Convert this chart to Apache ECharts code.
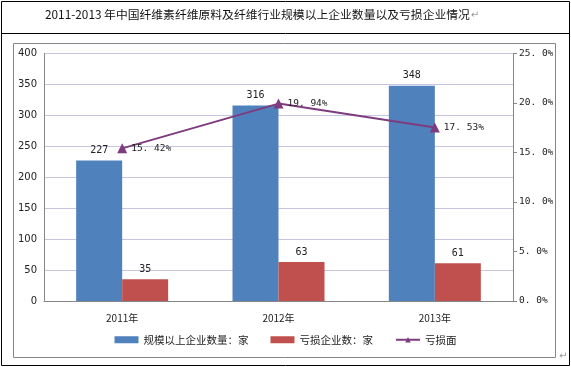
<!DOCTYPE html>
<html><head><meta charset="utf-8">
<script src="https://cdn.jsdelivr.net/npm/echarts@6/dist/echarts.min.js"></script>
<style>html,body{margin:0;padding:0;background:#fff}#c{width:571px;height:367px}</style>
</head><body><div id="c"></div>
<script>
const categories = ['2011年', '2012年', '2013年'];
const enterprises = [227, 316, 348];
const lossEnterprises = [35, 63, 61];
const lossRate = [15.42, 19.94, 17.53];
const seriesNames = ['规模以上企业数量：家', '亏损企业数：家', '亏损面'];
const titleText = '2011-2013 年中国纤维素纤维原料及纤维行业规模以上企业数量以及亏损企业情况';

const chart = echarts.init(document.getElementById('c'));
const pctFmt = (v, d) => { const s = v.toFixed(d); return s.replace('.', '. ') + '%'; };
chart.setOption({
  animation: false,
  textStyle: { fontFamily: 'DejaVu Sans, Noto Sans CJK SC' },
  graphic: [
    { type: 'rect', shape: { x: 1.5, y: 1.5, width: 568, height: 364 }, style: { fill: 'none', stroke: '#000', lineWidth: 1 } },
    { type: 'line', shape: { x1: 1.5, y1: 33.5, x2: 569.5, y2: 33.5 }, style: { stroke: '#000', lineWidth: 1 } },
    { type: 'rect', shape: { x: 13.5, y: 43.5, width: 542, height: 314 }, style: { fill: 'none', stroke: '#868686', lineWidth: 1 } },
    { type: 'text', left: 45, top: 9, style: { text: titleText + '{r|↵}', font: '11.8px "Noto Sans CJK SC"', fill: '#111',
        rich: { r: { fontSize: 10, fontFamily: 'DejaVu Sans', fill: '#999', padding: [2, 0, 0, 1] } } } },
    { type: 'text', left: 559, top: 351, style: { text: '↵', font: '10px "DejaVu Sans"', fill: '#999' } }
  ],
  grid: { left: 44, right: 58, top: 53.5, bottom: 66 },
  legend: {
    bottom: 17, left: 'center', itemWidth: 24, itemHeight: 7, itemGap: 22,
    textStyle: { fontSize: 10.5, color: '#222', fontFamily: 'Noto Sans CJK SC' },
    data: [
      { name: seriesNames[0], icon: 'rect' },
      { name: seriesNames[1], icon: 'rect' },
      { name: seriesNames[2] }
    ]
  },
  xAxis: {
    type: 'category', data: categories,
    axisLine: { lineStyle: { color: '#868686' } },
    axisTick: { show: false },
    axisLabel: { color: '#222', fontSize: 10, margin: 12, fontFamily: 'Noto Sans CJK SC' }
  },
  yAxis: [
    {
      type: 'value', min: 0, max: 400, interval: 50,
      axisLine: { show: true, lineStyle: { color: '#868686' } },
      axisTick: { show: false },
      axisLabel: { color: '#222', fontSize: 10, margin: 7, fontFamily: 'DejaVu Sans' },
      splitLine: { lineStyle: { color: '#c6c6e2' } }
    },
    {
      type: 'value', min: 0, max: 25, interval: 5,
      axisLine: { show: true, lineStyle: { color: '#868686' } },
      axisTick: { show: true, length: 4, lineStyle: { color: '#868686' } },
      axisLabel: { color: '#222', fontSize: 9.5, margin: 6, fontFamily: 'DejaVu Sans Mono', formatter: v => pctFmt(v, 1) },
      splitLine: { show: false }
    }
  ],
  series: [
    {
      name: seriesNames[0], type: 'bar', data: enterprises, barWidth: 46, barGap: '0%',
      itemStyle: { color: '#4f81bd' },
      label: { show: true, position: 'top', distance: 5, color: '#222', fontSize: 10, fontFamily: 'DejaVu Sans Mono' }
    },
    {
      name: seriesNames[1], type: 'bar', data: lossEnterprises, barWidth: 46,
      itemStyle: { color: '#c0504d' },
      label: { show: true, position: 'top', distance: 5, color: '#222', fontSize: 10, fontFamily: 'DejaVu Sans Mono' }
    },
    {
      name: seriesNames[2], type: 'line', yAxisIndex: 1, data: lossRate,
      symbol: 'triangle', symbolSize: 10,
      lineStyle: { color: '#7e3b7e', width: 2 },
      itemStyle: { color: '#7e3b7e' },
      label: { show: true, position: 'right', distance: 4, color: '#222', fontSize: 9.5, fontFamily: 'DejaVu Sans Mono', formatter: p => pctFmt(p.value, 2) }
    }
  ]
});
</script></body></html>
